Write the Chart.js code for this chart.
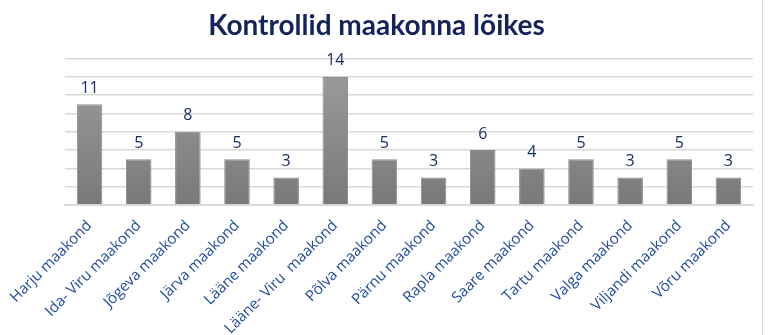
<!DOCTYPE html>
<html>
<head>
<meta charset="utf-8">
<script src="https://cdn.jsdelivr.net/npm/chart.js@4.4.1/dist/chart.umd.min.js"></script>
<style>
  html, body { margin: 0; padding: 0; background: #fff; }
  #wrap { position: relative; width: 768px; height: 335px; }
  #wrap::after { content: ""; position: absolute; left: 762px; top: 0; width: 1px; height: 335px; background: #d9d9d9; }
</style>
</head>
<body>
<div id="wrap"><canvas id="chart" width="768" height="335"></canvas></div>
<script>
// ==== Data ====
const counties = [
  "Harju maakond", "Ida- Viru maakond", "Jõgeva maakond", "Järva maakond",
  "Lääne maakond", "Lääne- Viru  maakond", "Põlva maakond", "Pärnu maakond",
  "Rapla maakond", "Saare maakond", "Tartu maakond", "Valga maakond",
  "Viljandi maakond", "Võru maakond"
];
const controls = [11, 5, 8, 5, 3, 14, 5, 3, 6, 4, 5, 3, 5, 3];

const chartTitle = "Kontrollid maakonna lõikes";
const tickBlue = "#1f4a9f";
const valueBlue = "#1a2d6b";

// ==== Value labels above bars ====
const valueLabels = {
  id: "valueLabels",
  afterDatasetsDraw(chart) {
    const ctx = chart.ctx;
    const meta = chart.getDatasetMeta(0);
    ctx.save();
    ctx.font = "16px 'Open Sans'";
    ctx.fillStyle = valueBlue;
    ctx.textAlign = "center";
    ctx.textBaseline = "middle";
    meta.data.forEach((bar, i) => {
      ctx.fillText(controls[i], bar.x, bar.y - 16);
    });
    ctx.restore();
  }
};

function barGradient(context) {
  const area = context.chart.chartArea;
  if (!area) return "#888";
  const g = context.chart.ctx.createLinearGradient(0, area.top, 0, area.bottom);
  g.addColorStop(0, "#9e9e9e");
  g.addColorStop(1, "#797979");
  return g;
}

// ==== Chart ====
const ctx = document.getElementById("chart").getContext("2d");
new Chart(ctx, {
  type: "bar",
  data: {
    labels: counties,
    datasets: [{
      data: controls,
      backgroundColor: barGradient,
      borderColor: "#8c8c8c",
      borderWidth: 1,
      categoryPercentage: 1,
      barPercentage: 0.52
    }]
  },
  options: {
    responsive: false,
    animation: false,
    layout: { padding: { left: 0, right: 15, top: 0, bottom: 0 } },
    plugins: {
      legend: { display: false },
      tooltip: { enabled: false },
      title: {
        display: true,
        text: chartTitle,
        color: "#14235a",
        font: { family: "Lato", size: 28, weight: "bold" },
        padding: { top: 9, bottom: 16 }
      }
    },
    scales: {
      x: {
        grid: { display: false },
        border: { color: "#d9d9d9", width: 2 },
        ticks: {
          color: tickBlue,
          font: { family: "'Open Sans'", size: 15 },
          minRotation: 45,
          maxRotation: 45,
          autoSkip: false,
          padding: 4
        },
        afterFit(scale) { scale.height = 130; }
      },
      y: {
        min: 0,
        max: 16,
        ticks: { display: false, stepSize: 2 },
        border: { display: false },
        grid: { color: "#d9d9d9", lineWidth: 1.5, drawTicks: false },
        afterFit(scale) { scale.width = 65; }
      }
    }
  },
  plugins: [valueLabels]
});
</script>
</body>
</html>
